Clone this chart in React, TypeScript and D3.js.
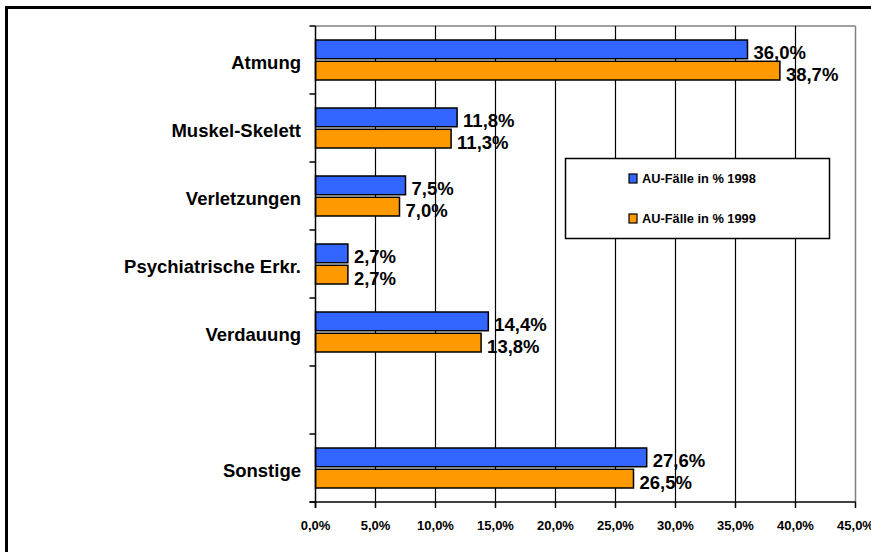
import React from "react";
import * as d3 from "d3";

const categories = ["Atmung", "Muskel-Skelett", "Verletzungen", "Psychiatrische Erkr.", "Verdauung", "", "Sonstige"];
const values1998: (number | null)[] = [36.0, 11.8, 7.5, 2.7, 14.4, null, 27.6];
const values1999: (number | null)[] = [38.7, 11.3, 7.0, 2.7, 13.8, null, 26.5];
const seriesNames = ["AU-Fälle in % 1998", "AU-Fälle in % 1999"];
const seriesColors = ["#3366FF", "#FF9900"];
const xTicks = [0, 5, 10, 15, 20, 25, 30, 35, 40, 45];

const W = 871;
const H = 552;
const FONT = "'Liberation Sans', Arial, Helvetica, sans-serif";

const fmt = (v: number) => v.toFixed(1).replace(".", ",") + "%";

export default function App() {
  const left = 315.5;
  const right = 855.5;
  const top = 26;
  const bottom = 502;

  const x = d3.scaleLinear().domain([0, 45]).range([left, right]);
  const y = d3
    .scaleBand<number>()
    .domain(categories.map((_, i) => i))
    .range([top, bottom])
    .paddingInner(0)
    .paddingOuter(0);
  const sub = d3
    .scaleBand<number>()
    .domain([0, 1])
    .range([14, 54])
    .paddingInner(0.12);

  const series = [values1998, values1999];
  const catTicks = d3.range(categories.length + 1).map((i) => top + i * y.step());

  return (
    <svg
      width={W}
      height={H}
      style={{ position: "absolute", left: 0, top: 0, background: "#fff" }}
      fontFamily={FONT}
    >
      <rect x={0} y={0} width={W} height={H} fill="#fff" />
      {/* outer frame */}
      <rect x={6.5} y={7.5} width={W + 50} height={H + 50} fill="none" stroke="#000" strokeWidth={3} />

      {/* plot area border (grey) */}
      <line x1={left} x2={right} y1={top} y2={top} stroke="#808080" strokeWidth={1.5} />
      <line x1={right} x2={right} y1={top} y2={bottom} stroke="#808080" strokeWidth={1.5} />

      {/* gridlines */}
      {xTicks.slice(1, -1).map((t) => (
        <line key={"g" + t} x1={x(t)} x2={x(t)} y1={top} y2={bottom} stroke="#000" strokeWidth={1.2} />
      ))}

      {/* bars */}
      {series.map((vals, si) =>
        vals.map((v, ci) =>
          v == null ? null : (
            <rect
              key={`b${si}-${ci}`}
              x={x(0)}
              y={(y(ci) as number) + (sub(si) as number)}
              width={x(v) - x(0)}
              height={sub.bandwidth()}
              fill={seriesColors[si]}
              stroke="#000"
              strokeWidth={1.5}
            />
          )
        )
      )}

      {/* value labels */}
      {series.map((vals, si) =>
        vals.map((v, ci) =>
          v == null ? null : (
            <text
              key={`l${si}-${ci}`}
              x={x(v) + 6}
              y={(y(ci) as number) + (sub(si) as number) + sub.bandwidth() + 0.5}
              fontSize={18.5}
              fontWeight="bold"
              fill="#000"
            >
              {fmt(v)}
            </text>
          )
        )
      )}

      {/* axes */}
      <line x1={left} x2={left} y1={top} y2={bottom + 6} stroke="#000" strokeWidth={1.5} />
      <line x1={left - 6} x2={right} y1={bottom} y2={bottom} stroke="#000" strokeWidth={1.5} />
      {catTicks.map((t, i) => (
        <line key={"ct" + i} x1={left - 6} x2={left} y1={t} y2={t} stroke="#000" strokeWidth={1.5} />
      ))}
      {xTicks.map((t) => (
        <line key={"xt" + t} x1={x(t)} x2={x(t)} y1={bottom} y2={bottom + 6} stroke="#000" strokeWidth={1.5} />
      ))}
      {xTicks.map((t) => (
        <text
          key={"xl" + t}
          x={x(t)}
          y={530}
          textAnchor="middle"
          fontSize={13}
          fontWeight="bold"
          fill="#000"
        >
          {fmt(t)}
        </text>
      ))}
      {categories.map((c, i) => (
        <text
          key={"cl" + i}
          x={301}
          y={(y(i) as number) + y.bandwidth() / 2 + 9}
          textAnchor="end"
          fontSize={18.5}
          fontWeight="bold"
          fill="#000"
        >
          {c}
        </text>
      ))}

      {/* legend */}
      <rect x={565.5} y={158.5} width={264} height={80} fill="#fff" stroke="#000" strokeWidth={1.5} />
      {seriesNames.map((n, i) => (
        <g key={"lg" + i}>
          <rect x={629} y={174 + i * 40} width={8} height={9} fill={seriesColors[i]} stroke="#000" strokeWidth={1.2} />
          <text x={642} y={182.5 + i * 40} fontSize={12.8} fontWeight="bold" fill="#000">
            {n}
          </text>
        </g>
      ))}
    </svg>
  );
}
